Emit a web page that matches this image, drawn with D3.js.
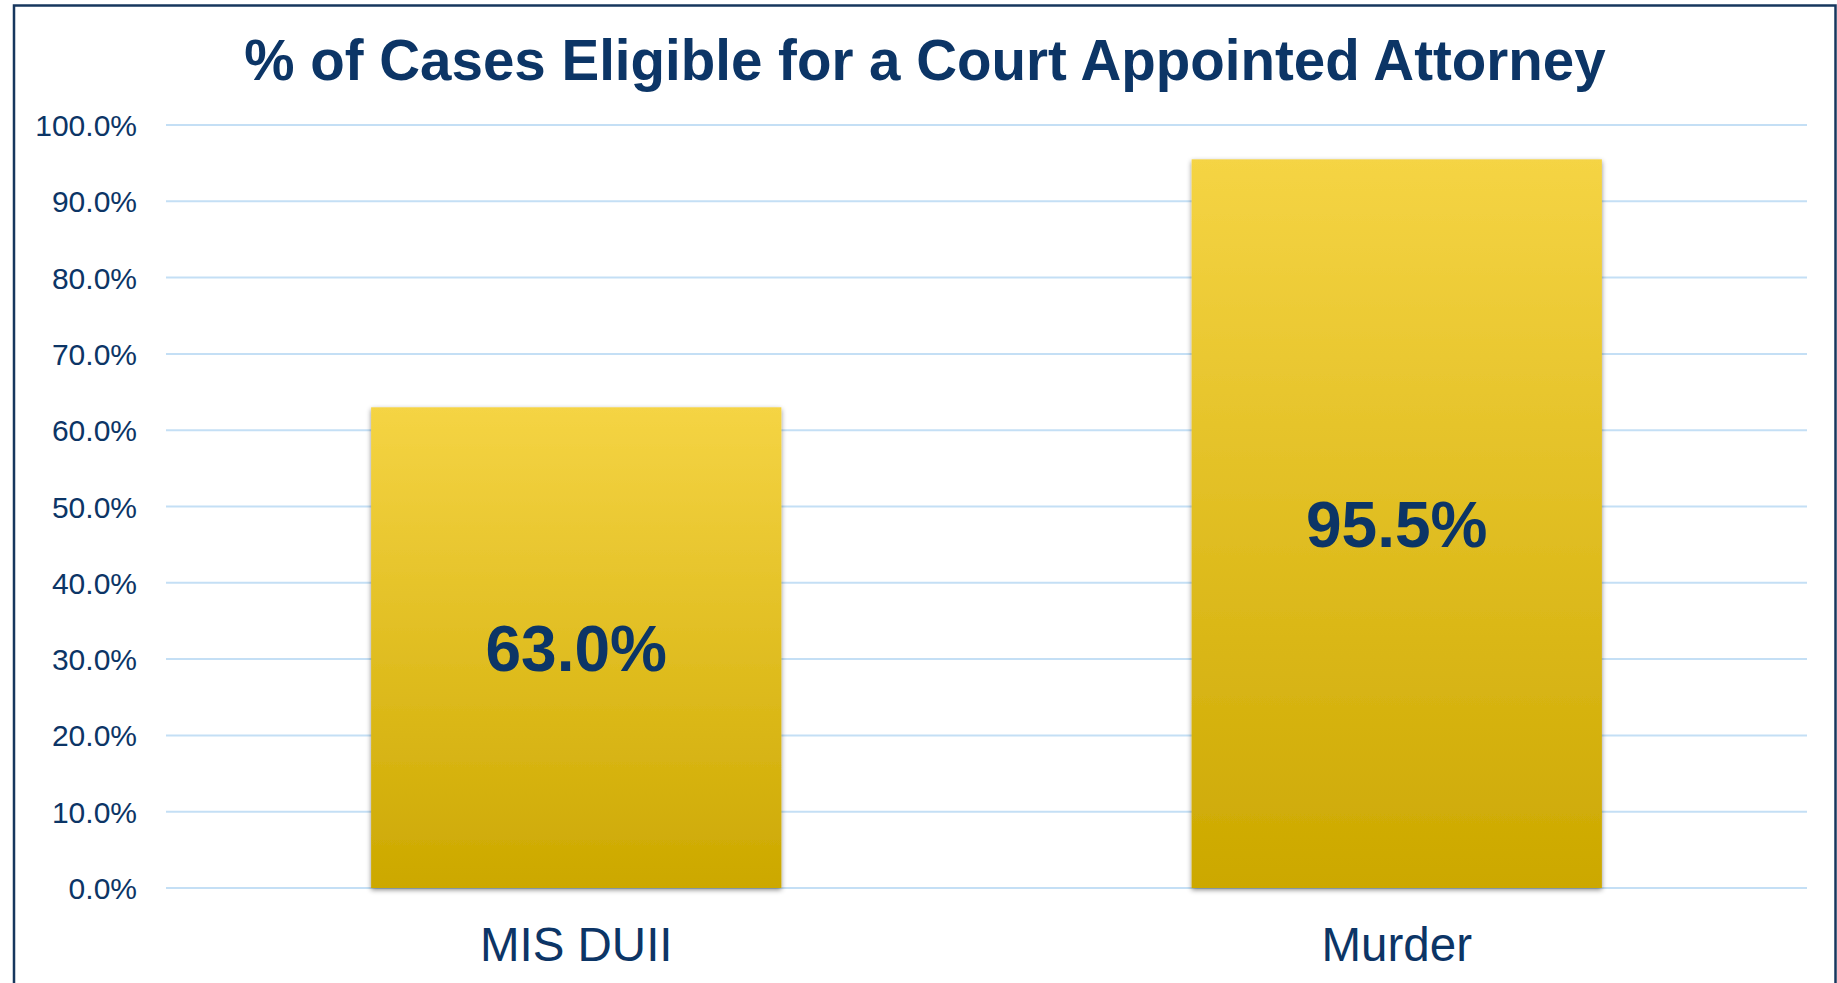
<!DOCTYPE html>
<html>
<head>
<meta charset="utf-8">
<script src="https://cdn.jsdelivr.net/npm/d3@7"></script>
<style>
  html, body { margin: 0; padding: 0; background: #ffffff; }
  svg { display: block; }
</style>
</head>
<body>
<script>
const categories = ["MIS DUII", "Murder"];
const values = [0.630, 0.955];
const yTicks = [0, 0.1, 0.2, 0.3, 0.4, 0.5, 0.6, 0.7, 0.8, 0.9, 1.0];
const titleText = "% of Cases Eligible for a Court Appointed Attorney";

const W = 1837, H = 983;
const navy = "#0c3566";
const svg = d3.select("body").append("svg").attr("width", W).attr("height", H);

const defs = svg.append("defs");
const grad = defs.append("linearGradient").attr("id", "barGrad")
  .attr("x1", 0).attr("y1", 0).attr("x2", 0).attr("y2", 1);
grad.append("stop").attr("offset", "0%").attr("stop-color", "#f5d444");
grad.append("stop").attr("offset", "100%").attr("stop-color", "#cca800");

const shadow = defs.append("filter").attr("id", "shadow")
  .attr("x", "-5%").attr("y", "-5%").attr("width", "110%").attr("height", "110%");
shadow.append("feDropShadow").attr("dx", 0).attr("dy", 2).attr("stdDeviation", 2.5)
  .attr("flood-color", "#000").attr("flood-opacity", 0.45);

// frame
svg.append("rect").attr("x", 14).attr("y", 5.5).attr("width", 1821.5).attr("height", 1100)
  .attr("fill", "none").attr("stroke", "#17375e").attr("stroke-width", 2.5);

const x = d3.scaleBand().domain(categories).range([166, 1807])
  .paddingInner(0.5).paddingOuter(0.25);
const y = d3.scaleLinear().domain([0, 1]).range([888, 125]);

// gridlines
svg.append("g").selectAll("line").data(yTicks).join("line")
  .attr("x1", 166).attr("x2", 1807)
  .attr("y1", d => y(d)).attr("y2", d => y(d))
  .attr("stroke", "#c4dff5").attr("stroke-width", 2);

// y axis
const yAxis = svg.append("g").attr("transform", "translate(137,0)")
  .call(d3.axisLeft(y).tickValues(yTicks).tickFormat(d3.format(".1%")).tickSize(0).tickPadding(0));
yAxis.select(".domain").remove();
yAxis.selectAll("text")
  .attr("font-family", "Liberation Sans, Arial, sans-serif")
  .attr("font-size", 30).attr("fill", navy).attr("dy", "0.35em");

// bars
svg.append("g").selectAll("rect").data(values).join("rect")
  .attr("x", (d, i) => x(categories[i]))
  .attr("width", x.bandwidth())
  .attr("y", d => y(d))
  .attr("height", d => y(0) - y(d))
  .attr("fill", "url(#barGrad)")
  .attr("filter", "url(#shadow)");

// value labels
svg.append("g").selectAll("text").data(values).join("text")
  .attr("x", (d, i) => x(categories[i]) + x.bandwidth() / 2)
  .attr("y", d => (y(d) + y(0)) / 2)
  .attr("dy", "0.36em")
  .attr("text-anchor", "middle")
  .attr("font-family", "Liberation Sans, Arial, sans-serif")
  .attr("font-weight", "bold").attr("font-size", 64).attr("fill", navy)
  .text(d => d3.format(".1%")(d));

// x axis labels
const xAxis = svg.append("g").attr("transform", "translate(0,888)")
  .call(d3.axisBottom(x).tickSize(0).tickPadding(0));
xAxis.select(".domain").remove();
xAxis.selectAll("text")
  .attr("font-family", "Liberation Sans, Arial, sans-serif")
  .attr("font-size", 47.5).attr("fill", navy)
  .attr("y", 73).attr("dy", 0);

// title
svg.append("text").attr("x", 925).attr("y", 80).attr("text-anchor", "middle")
  .attr("font-family", "Liberation Sans, Arial, sans-serif")
  .attr("font-weight", "bold").attr("font-size", 56.5).attr("fill", navy)
  .text(titleText);
</script>
</body>
</html>
